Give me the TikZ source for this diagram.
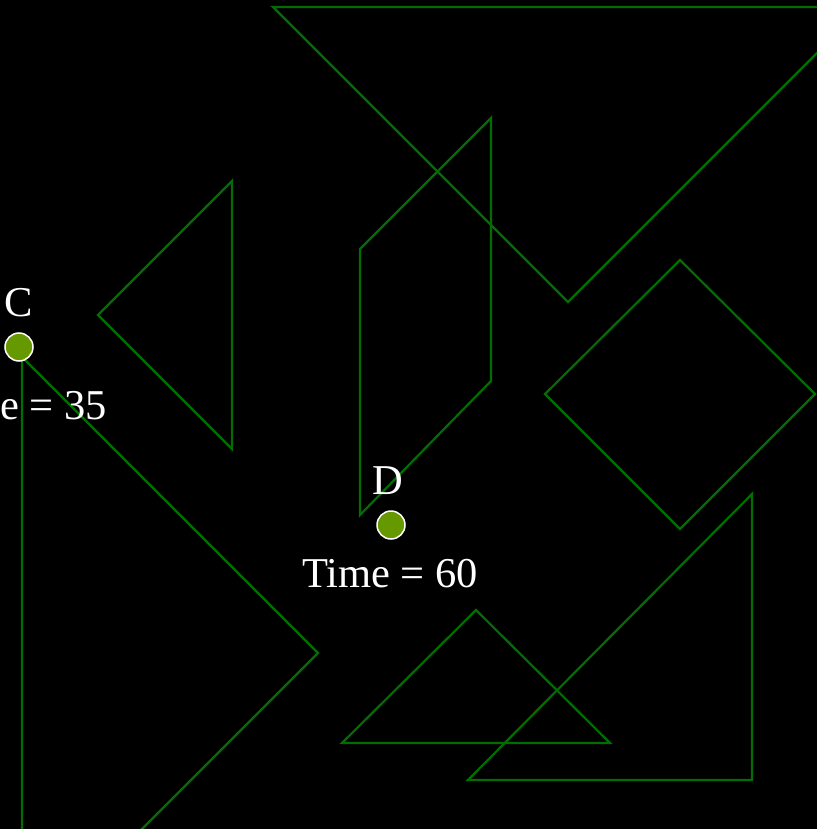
\documentclass[tikz,border=0pt]{standalone}
\usepackage{fontspec}
\setmainfont{Liberation Serif}
\definecolor{shapegreen}{RGB}{0,110,0}
\definecolor{dotgreen}{RGB}{102,153,0}
\begin{document}
\begin{tikzpicture}[x=1pt,y=-1pt,
  outline/.style={draw=shapegreen,line width=2.2pt,line join=miter},
  dot/.style={circle,draw=white,line width=1.5pt,fill=dotgreen,minimum size=28pt,inner sep=0pt},
  lbl/.style={text=white,font=\fontsize{42.5}{46}\selectfont,inner sep=0pt}]
\fill[black] (0,0) rectangle (817,829);
\useasboundingbox (0,0) rectangle (817,829);
\clip (0,0) rectangle (817,829);
% big top triangle
\draw[outline] (273,7) -- (863,7) -- (568,302) -- cycle;
% left triangle
\draw[outline] (232,181) -- (98,315) -- (232,449) -- cycle;
% parallelogram
\draw[outline] (491,118) -- (491,381) -- (360,515) -- (360,249) -- cycle;
% diamond
\draw[outline] (680,260) -- (815,394) -- (680,529) -- (545,394) -- cycle;
% triangle below C
\draw[outline] (22,357) -- (318,653) -- (22,949) -- cycle;
% small bottom triangle
\draw[outline] (476,610) -- (610,743) -- (342,743) -- cycle;
% right triangle
\draw[outline] (752,494) -- (752,780) -- (468,780) -- cycle;
% points
\node[dot] (C) at (19,347) {};
\node[lbl] (Clabel) at (19,303) {C};
\node[lbl] (Ctime) at (19,406) {Time = 35};
\node[dot] (D) at (391,525) {};
\node[lbl] (Dlabel) at (388,481) {D};
\node[lbl] (Dtime) at (390,574) {Time = 60};
\end{tikzpicture}
\end{document}
